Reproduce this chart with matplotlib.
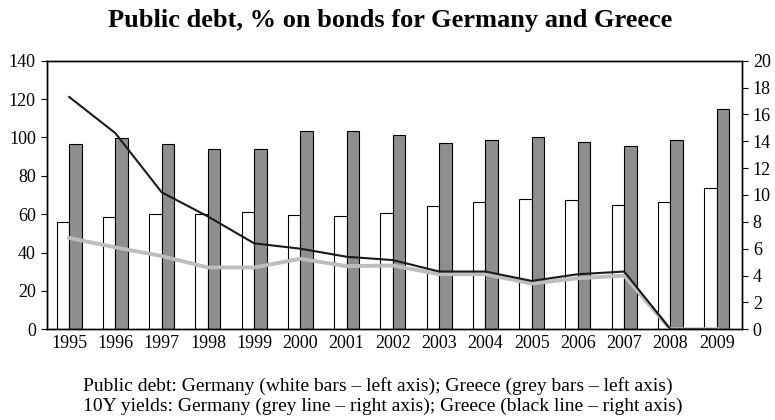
import matplotlib.pyplot as plt
import numpy as np

plt.rcParams['font.family'] = ['Liberation Serif', 'DejaVu Serif']

years = ["1995", "1996", "1997", "1998", "1999", "2000", "2001", "2002",
         "2003", "2004", "2005", "2006", "2007", "2008", "2009"]

# public debt, % of GDP (left axis)
debt_germany = [55.8, 58.5, 59.9, 60.0, 61.0, 59.7, 58.8, 60.4,
                64.2, 66.2, 67.7, 67.6, 64.8, 66.2, 73.8]
debt_greece = [96.4, 99.7, 96.4, 94.1, 93.8, 103.3, 103.5, 101.2,
               97.1, 98.5, 100.2, 97.4, 95.5, 98.8, 114.6]

# 10Y yields (right axis)
yield_germany = [6.8, 6.1, 5.45, 4.6, 4.6, 5.25, 4.7, 4.75,
                 4.1, 4.1, 3.4, 3.8, 4.0, 0, 0]
yield_greece = [17.3, 14.6, 10.2, 8.4, 6.4, 6.0, 5.4, 5.15,
                4.3, 4.3, 3.6, 4.1, 4.3, 0, 0]

x = np.arange(len(years))
w = 0.27

fig = plt.figure(figsize=(7.75, 4.2), dpi=100)
ax = fig.add_axes([0.0606, 0.216, 0.8964, 0.6395])

ax.bar(x - w / 2, debt_germany, w, color="white", edgecolor="black", linewidth=0.8, zorder=2)
ax.bar(x + w / 2, debt_greece, w, color="#8e8e90", edgecolor="black", linewidth=0.8, zorder=2)
ax.set_ylim(0, 140)
ax.set_yticks(range(0, 141, 20))
ax.set_xlim(-0.48, 14.54)
ax.set_xticks(x)
ax.set_xticklabels(years)
ax.tick_params(axis="x", length=0, labelsize=13, pad=4)
ax.tick_params(axis="y", labelsize=13, direction="out", length=4.5)

ax2 = ax.twinx()
ax2.plot(x, yield_germany, color="#bdbdbd", linewidth=2.8, zorder=3)
ax2.plot(x, yield_greece, color="#1a1a1a", linewidth=1.5, zorder=4)
ax2.set_ylim(0, 20)
ax2.set_yticks(range(0, 21, 2))
ax2.tick_params(axis="y", labelsize=13, direction="out", length=4.5)

for a in (ax, ax2):
    for s in a.spines.values():
        s.set_linewidth(1.0)

fig.text(0.503, 1 - 27 / 420, "Public debt, % on bonds for Germany and Greece",
         ha="center", va="baseline", fontsize=19, fontweight="bold")
fig.text(83 / 775, 1 - 391 / 420, "Public debt: Germany (white bars \u2013 left axis); Greece (grey bars \u2013 left axis)",
         ha="left", va="baseline", fontsize=14)
fig.text(83 / 775, 1 - 411 / 420, "10Y yields: Germany (grey line \u2013 right axis); Greece (black line \u2013 right axis)",
         ha="left", va="baseline", fontsize=14)

fig.savefig("out.png", dpi=100)
